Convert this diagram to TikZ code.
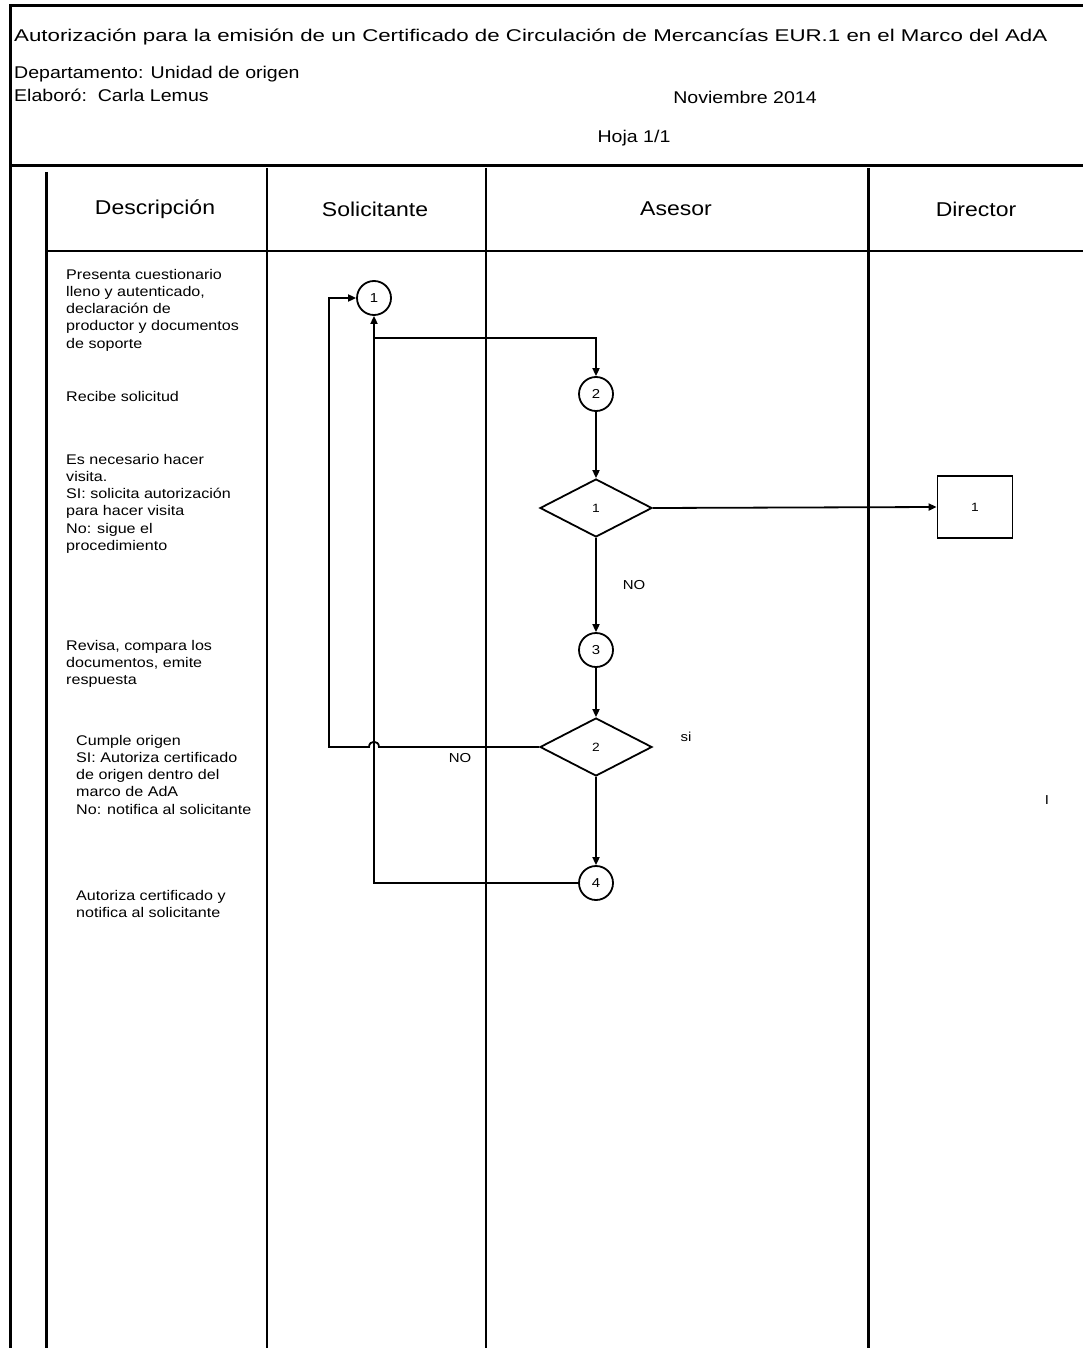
\documentclass[tikz,border=0pt]{standalone}
\usepackage{fontspec}
\setmainfont{Liberation Sans}[FakeStretch=1.15]
\usetikzlibrary{shapes.geometric,arrows.meta}
\begin{document}
\begin{tikzpicture}[x=1pt,y=-1pt,
  thickline/.style={line width=3pt},
  colline/.style={line width=2pt},
  flow/.style={line width=1.8pt},
  arr/.style={flow,-{Triangle[length=8pt,width=7pt]}},
  conn/.style={circle,draw,line width=1.8pt,minimum size=34pt,inner sep=0pt,font=\fontsize{13}{15}\selectfont},
  dec/.style={diamond,draw,line width=1.8pt,minimum width=112pt,minimum height=58pt,inner sep=0pt,font=\fontsize{12}{14}\selectfont},
  procbox/.style={rectangle,draw,line width=1.8pt,minimum width=75pt,minimum height=62pt,inner sep=0pt,font=\fontsize{12}{14}\selectfont},
  desc/.style={align=left,anchor=north west,inner sep=0pt,font=\fontsize{14}{17.2}\selectfont},
  headtxt/.style={inner sep=0pt,font=\fontsize{17}{20}\selectfont},
  coltxt/.style={inner sep=0pt,font=\fontsize{20}{24}\selectfont},
  lbl/.style={inner sep=0pt,font=\fontsize{13}{15}\selectfont}
]
\useasboundingbox (0,0) rectangle (1083,1348);
% frame
\draw[thickline] (1083,6) -- (10,6) -- (10,1348);
\draw[thickline] (10,166) -- (1083,166);
% table
\draw[thickline] (46,172) -- (46,1348);
\draw[colline] (267,168) -- (267,1348);
\draw[colline] (486,168) -- (486,1348);
\draw[thickline] (868,168) -- (868,1348);
\draw[colline] (46,251) -- (1083,251);
% header texts
\node[headtxt,anchor=west] (title) at (14,37) {\scalebox{1.14}[1]{Autorización para la emisión de un Certificado de Circulación de Mercancías EUR.1 en el Marco del AdA}};
\node[headtxt,anchor=west] (dept) at (14,74) {Departamento: Unidad de origen};
\node[headtxt,anchor=west] (elab) at (14,95) {Elaboró:\ \ Carla Lemus};
\node[headtxt] (fecha) at (745,97) {Noviembre 2014};
\node[headtxt] (hoja) at (634,138) {Hoja 1/1};
% column heads
\node[coltxt] (hdesc) at (155,209) {Descripción};
\node[coltxt] (hsol) at (375,209) {Solicitante};
\node[coltxt] (hase) at (676,209) {Asesor};
\node[coltxt] (hdir) at (976,209) {Director};
% descriptions
\node[desc] (t1) at (66,269) {Presenta cuestionario\\lleno y autenticado,\\declaración de\\productor y documentos\\de soporte};
\node[desc] (t2) at (66,391) {Recibe solicitud};
\node[desc] (t3) at (66,454) {Es necesario hacer\\visita.\\SI: solicita autorización\\para hacer visita\\No: sigue el\\procedimiento};
\node[desc] (t4) at (66,640) {Revisa, compara los\\documentos, emite\\respuesta};
\node[desc] (t5) at (76,735) {Cumple origen\\SI: Autoriza certificado\\de origen dentro del\\marco de AdA\\No: notifica al solicitante};
\node[desc] (t6) at (76,890) {Autoriza certificado y\\notifica al solicitante};
% flow nodes
\node[conn] (c1) at (374,298) {1};
\node[conn] (c2) at (596,394) {2};
\node[dec] (d1) at (596,508) {1};
\node[procbox] (b1) at (975,507) {1};
\node[conn] (c3) at (596,650) {3};
\node[dec] (d2) at (596,747) {2};
\node[conn] (c4) at (596,883) {4};
\coordinate (split) at (374,338);
\coordinate (hopR) at (379,747);
\coordinate (hopL) at (369,747);
% connectors
\draw[arr] (c4.west) -| (c1.south);
\draw[arr] (split) -| (c2.north);
\draw[arr] (c2) -- (d1.north);
\draw[arr] (d1.east) -- (b1.west);
\draw[arr] (d1) -- (c3.north);
\draw[arr] (c3) -- (d2.north);
\draw[arr] (d2) -- (c4.north);
\draw[arr] (d2.west) -- (hopR) .. controls (379,740) and (369,740) .. (hopL) -- (329,747) |- (c1.west);
% labels
\node[lbl] (lno1) at (634,585) {NO};
\node[lbl] (lno2) at (460,758) {NO};
\node[lbl] (lsi) at (686,737) {si};
\node[lbl] (stray) at (1047,800) {I};
\end{tikzpicture}
\end{document}
